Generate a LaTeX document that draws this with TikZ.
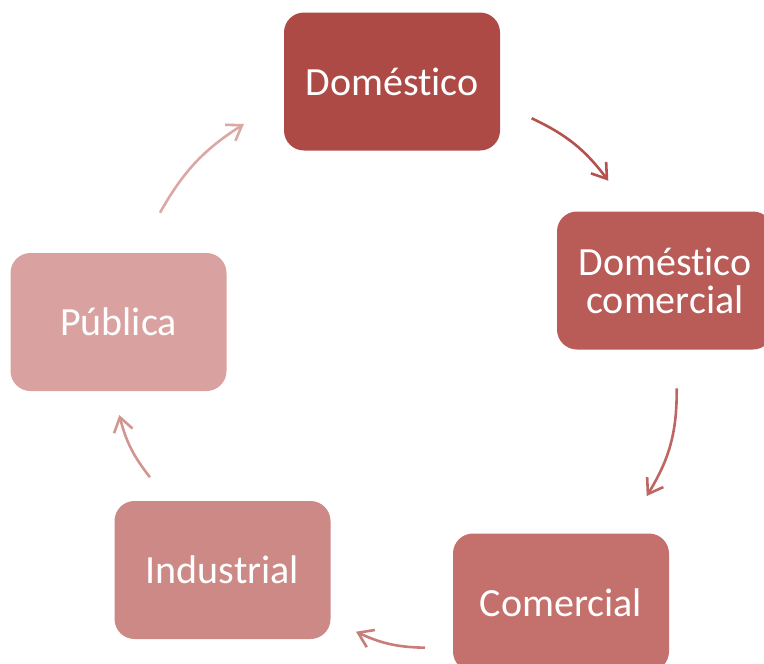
\documentclass[tikz,border=0pt]{standalone}
\usepackage{fontspec}
\setmainfont{Carlito}[Ligatures=NoCommon]
\usetikzlibrary{arrows.meta}
\definecolor{cA}{HTML}{AE4A46}
\definecolor{cB}{HTML}{B95B57}
\definecolor{cC}{HTML}{C4716D}
\definecolor{cD}{HTML}{CD8985}
\definecolor{cE}{HTML}{D9A2A0}
\definecolor{aA}{HTML}{B4524E}
\definecolor{aB}{HTML}{BF6562}
\definecolor{aC}{HTML}{C87D79}
\definecolor{aD}{HTML}{D39592}
\definecolor{aE}{HTML}{DBA8A6}
\tikzset{
  box/.style={rounded corners=20pt, minimum width=216pt, minimum height=138pt,
    inner sep=0pt, text=white, align=center,
    font=\fontsize{40}{38}\selectfont},
  cyc/.style={line width=2.6pt, -{Straight Barb[length=14pt,width=19pt,line width=2.6pt]}}
}
\begin{document}
\begin{tikzpicture}[x=1pt,y=-1pt]
\useasboundingbox (0,0) rectangle (764,664);
\node[box, fill=cA] (dom) at (392,81.5) {Doméstico};
\node[box, fill=cB] (dc) at (665,280.5) {Doméstico\\comercial};
\node[box, fill=cC] (com) at (561,602.5) {Comercial};
\node[box, fill=cD] (ind) at (222.5,570) {Industrial};
\node[box, fill=cE] (pub) at (118.5,322) {Pública};
\coordinate (a1s) at (531.7,118.3);
\coordinate (a1e) at (608.3,180.7);
\coordinate (a2s) at (676.7,388.3);
\coordinate (a2e) at (646.7,496);
\coordinate (a3s) at (425,647.7);
\coordinate (a3e) at (356,631.7);
\coordinate (a4s) at (150,477.3);
\coordinate (a4e) at (119.3,415);
\coordinate (a5s) at (160,212.7);
\coordinate (a5e) at (244,124);
\draw[cyc, draw=aA] (a1s) to[bend left=14] (a1e);
\draw[cyc, draw=aB] (a2s) to[bend left=16] (a2e);
\draw[cyc, draw=aC] (a3s) to[bend left=12] (a3e);
\draw[cyc, draw=aD] (a4s) to[bend left=12] (a4e);
\draw[cyc, draw=aE] (a5s) to[bend left=14] (a5e);
\end{tikzpicture}
\end{document}
